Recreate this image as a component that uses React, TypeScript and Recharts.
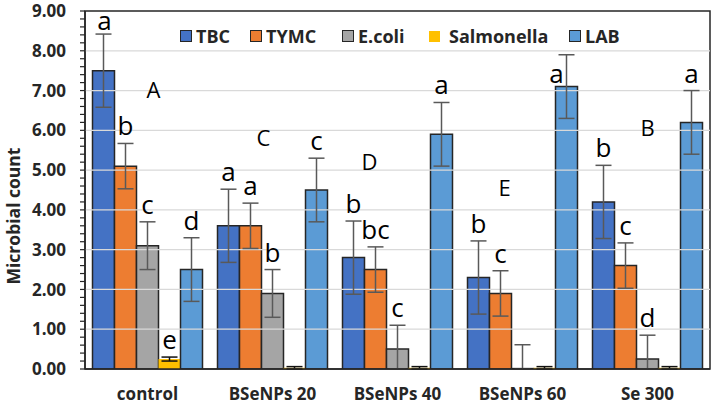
import { Bar, BarChart, ErrorBar, LabelList, ReferenceArea, ReferenceDot, ReferenceLine, XAxis, YAxis } from "recharts";

const categories = ["control", "BSeNPs 20", "BSeNPs 40", "BSeNPs 60", "Se 300"];

const tbc = [7.5, 3.6, 2.8, 2.3, 4.2];
const tbcSd = [0.92, 0.92, 0.92, 0.92, 0.92];
const tbcLetters = ["a", "a", "b", "b", "b"];

const tymc = [5.1, 3.6, 2.5, 1.9, 2.6];
const tymcSd = [0.57, 0.57, 0.57, 0.57, 0.57];
const tymcLetters = ["b", "a", "bc", "c", "c"];

const ecoli = [3.1, 1.9, 0.5, 0.01, 0.25];
const ecoliSd = [0.6, 0.6, 0.6, 0.6, 0.6];
const ecoliLetters = ["c", "b", "c", "", "d"];

const salmonella = [0.25, 0.03, 0.03, 0.03, 0.03];
const salmonellaSd = [0.05, 0.03, 0.03, 0.03, 0.03];
const salmonellaLetters = ["e", "", "", "", ""];

const lab = [2.5, 4.5, 5.9, 7.1, 6.2];
const labSd = [0.8, 0.8, 0.8, 0.8, 0.8];
const labLetters = ["d", "c", "a", "a", "a"];

// group-level letters (A..E) and the height they sit at
const groupLetters = ["A", "C", "D", "E", "B"];
const groupLetterY = [7.0, 5.8, 5.2, 4.55, 6.05];

const majorTicks = [0, 1, 2, 3, 4, 5, 6, 7, 8, 9];
const minorTicks = Array.from({ length: 46 }, (_, i) => Math.round(i * 20) / 100);

const series = [
  { key: "tbc", name: "TBC", values: tbc, sd: tbcSd, letters: tbcLetters, color: "#4472C4", outline: true, err: "#595959" },
  { key: "tymc", name: "TYMC", values: tymc, sd: tymcSd, letters: tymcLetters, color: "#ED7D31", outline: true, err: "#595959" },
  { key: "ecoli", name: "E.coli", values: ecoli, sd: ecoliSd, letters: ecoliLetters, color: "#A5A5A5", outline: true, err: "#595959" },
  { key: "salmonella", name: "Salmonella", values: salmonella, sd: salmonellaSd, letters: salmonellaLetters, color: "#FFC000", outline: false, err: "#111" },
  { key: "lab", name: "LAB", values: lab, sd: labSd, letters: labLetters, color: "#5B9BD5", outline: true, err: "#595959" }
];

const rows = categories.map((name, i) => {
  const row: Record<string, any> = { name };
  series.forEach((s) => {
    const v = s.values[i];
    row[s.key] = v;
    row[s.key + "Err"] = [Math.min(s.sd[i], v), s.sd[i]];
    row[s.key + "Label"] = { letter: s.letters[i], v, up: s.sd[i], id: s.key + "-" + i };
  });
  return row;
});

const FONT = "'Open Sans', 'Noto Sans', sans-serif";
const INK = "#262626";
const capitalDx = [6, -9, -28, -18, 0];
const legendX = [180, 250, 342, 429, 569];
// a few letters sit beside their error bar rather than on top
const letterNudge: Record<string, [number, number]> = { "lab-3": [-10, 36], "tbc-0": [1, 4] };

function LetterLabel(props: any) {
  const { x, y, width, height, value } = props;
  if (!value || !value.letter) return null;
  const perUnit = value.v > 0 ? height / value.v : 0;
  const [nx, ny] = letterNudge[value.id] || [0, 0];
  return (
    <text
      x={x + width / 2 + nx}
      y={y - value.up * perUnit - 8 + ny}
      textAnchor="middle"
      fontFamily={FONT}
      fontSize={26}
      fill="#000"
    >
      {value.letter}
    </text>
  );
}

function YTick(props: any) {
  const { x, y, payload } = props;
  const v = payload.value;
  const major = Math.abs(v - Math.round(v)) < 1e-6;
  return (
    <g>
      <line x1={x - 5} x2={x} y1={y} y2={y} stroke={INK} strokeWidth={1.2} />
      {major && (
        <text x={x - 19} y={y} dy="0.36em" textAnchor="end" fontFamily={FONT} fontWeight="bold" fontSize={17} fill={INK}>
          {v.toFixed(2)}
        </text>
      )}
    </g>
  );
}

function Legendbox() {
  return (
    <div style={{ fontFamily: FONT, fontWeight: "bold", fontSize: 18, color: INK }}>
      {series.map((s, i) => (
        <div
          key={s.key}
          style={{ position: "absolute", left: legendX[i], top: 24, height: 24, display: "flex", alignItems: "center", gap: s.outline ? 4 : 9, whiteSpace: "nowrap" }}
        >
          <span
            style={{
              display: "inline-block",
              width: s.outline ? 10 : 11,
              height: s.outline ? 10 : 11,
              background: s.color,
              border: s.outline ? "1.5px solid " + INK : "none"
            }}
          />
          <span>{s.name}</span>
        </div>
      ))}
    </div>
  );
}

export default function App() {
  return (
    <div style={{ position: "absolute", left: 0, top: 0, width: 714, height: 406, background: "#fff" }}>
      <BarChart
        width={714}
        height={406}
        data={rows}
        margin={{ top: 11, right: 4, left: 0, bottom: 0 }}
        barCategoryGap="6%"
        barGap={0}
      >
        <XAxis
          dataKey="name"
          height={37}
          tickLine={false}
          tickMargin={13}
          axisLine={{ stroke: INK, strokeWidth: 1.5 }}
          tick={{ fontFamily: FONT, fontWeight: "bold", fontSize: 17, fill: INK }}
        />
        <YAxis
          width={85}
          domain={[0, 9]}
          allowDataOverflow
          ticks={minorTicks}
          interval={0}
          tickLine={false}
          tickSize={0}
          tickMargin={0}
          tick={<YTick />}
          axisLine={{ stroke: INK, strokeWidth: 1.5 }}
          label={{
            content: (p: any) => {
              const vb = p.viewBox;
              const cx = vb.x + 13;
              const cy = vb.y + vb.height / 2 + 26;
              return (
                <text
                  x={cx}
                  y={cy}
                  transform={`rotate(-90 ${cx} ${cy})`}
                  textAnchor="middle"
                  dominantBaseline="central"
                  fontFamily={FONT}
                  fontWeight="bold"
                  fontSize={17.5}
                  fill={INK}
                >
                  Microbial count
                </text>
              );
            }
          }}
        />
        {majorTicks.slice(1, -1).map((v) => (
          <ReferenceLine key={v} y={v} stroke="#d9d9d9" strokeWidth={1.2} />
        ))}
        {series.map((s) => (
          <Bar
            key={s.key}
            dataKey={s.key}
            name={s.name}
            fill={s.color}
            stroke={s.outline ? INK : "none"}
            strokeWidth={1.5}
            isAnimationActive={false}
          >
            <ErrorBar dataKey={s.key + "Err"} width={8} stroke={s.err} strokeWidth={1.5} direction="y" />
            <LabelList dataKey={s.key + "Label"} content={<LetterLabel />} />
          </Bar>
        ))}
        {groupLetters.map((g, i) => (
          <ReferenceDot
            key={g}
            x={categories[i]}
            y={groupLetterY[i]}
            r={0}
            fill="none"
            stroke="none"
            label={(p: any) => (
              <text
                x={p.viewBox.x + capitalDx[i]}
                y={p.viewBox.y}
                dy="0.36em"
                textAnchor="middle"
                fontFamily={FONT}
                fontSize={22}
                fill="#000"
              >
                {g}
              </text>
            )}
          />
        ))}
        <ReferenceArea y1={0} y2={9} fill="none" stroke={INK} strokeWidth={1.5} ifOverflow="visible" />
      </BarChart>
      <Legendbox />
    </div>
  );
}
